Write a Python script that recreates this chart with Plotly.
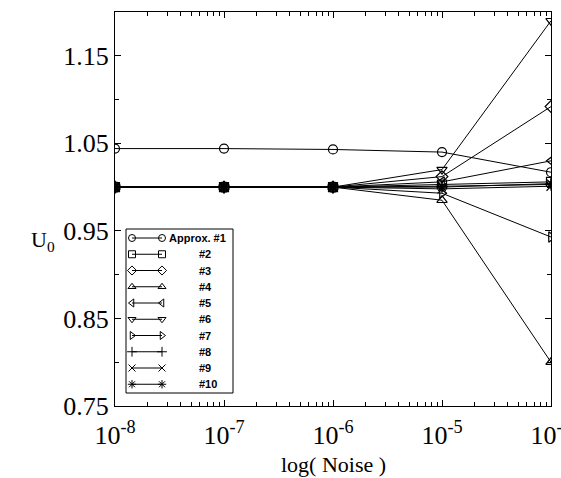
import plotly.graph_objects as go

# Noise levels (decades) and U0 estimates for each approximation
noise = [1e-8, 1e-7, 1e-6, 1e-5, 1e-4]
approx_1 = [1.044, 1.044, 1.043, 1.040, 1.017]
approx_2 = [1.000, 1.000, 1.000, 1.003, 1.006]
approx_3 = [1.000, 1.000, 1.000, 1.012, 1.092]
approx_4 = [1.000, 1.000, 1.000, 0.985, 0.800]
approx_5 = [1.000, 1.000, 1.000, 1.006, 1.030]
approx_6 = [1.000, 1.000, 1.000, 1.020, 1.190]
approx_7 = [1.000, 1.000, 1.000, 0.993, 0.943]
approx_8 = [1.000, 1.000, 1.000, 1.001, 1.003]
approx_9 = [1.000, 1.000, 1.000, 0.998, 1.001]
approx_10 = [1.000, 1.000, 1.000, 1.000, 1.004]

series_names = ["Approx. #1", "#2", "#3", "#4", "#5", "#6", "#7", "#8", "#9", "#10"]
series_values = [approx_1, approx_2, approx_3, approx_4, approx_5,
                 approx_6, approx_7, approx_8, approx_9, approx_10]
symbols = ["circle-open", "square-open", "diamond-open", "triangle-up-open",
           "triangle-left-open", "triangle-down-open", "triangle-right-open",
           "cross-thin-open", "x-thin-open", "asterisk-open"]

x_tickvals = [1e-8, 1e-7, 1e-6, 1e-5, 1e-4]
x_ticktext = ["10<sup>-8</sup>", "10<sup>-7</sup>", "10<sup>-6</sup>",
              "10<sup>-5</sup>", "10<sup>-4</sup>"]
x_minor = [m * 10.0 ** e for e in range(-8, -4) for m in range(2, 10)]
y_tickvals = [0.75, 0.85, 0.95, 1.05, 1.15]
y_ticktext = ["0.75", "0.85", "0.95", "1.05", "1.15"]
y_minor = [0.80, 0.90, 1.00, 1.10, 1.20]

W, H = 561, 478
ML, MR, MT, MB = 115, 10, 12, 72
PW, PH = W - ML - MR, H - MT - MB

SERIF = "Liberation Serif, Times New Roman, serif"
SANS = "Liberation Sans, Arial, sans-serif"

fig = go.Figure()

for name, vals, sym in zip(series_names, series_values, symbols):
    fig.add_trace(go.Scatter(
        x=noise, y=vals, name=name, mode="lines+markers",
        line=dict(color="black", width=1),
        marker=dict(symbol=sym, size=9, color="black",
                    line=dict(color="black", width=1.2)),
        showlegend=False, xaxis="x", yaxis="y",
    ))

# Boxed key drawn on an overlay axis measured in pixels from the plot's top-left
key_x0, key_x1 = 11, 118
key_y0, key_y1 = 217, 381
row_y0, row_step = 226, 16.25
mark_xl, mark_xr = 17, 47
for i, (name, sym) in enumerate(zip(series_names, symbols)):
    ry = row_y0 + i * row_step
    fig.add_trace(go.Scatter(
        x=[mark_xl, mark_xr], y=[ry, ry], mode="lines+markers",
        line=dict(color="black", width=1),
        marker=dict(symbol=sym, size=7, color="black",
                    line=dict(color="black", width=1)),
        showlegend=False, xaxis="x2", yaxis="y2", hoverinfo="skip",
    ))
    fig.add_annotation(
        x=52 if i == 0 else 82, y=ry, xref="x2", yref="y2",
        text="<b>" + name + "</b>", showarrow=False, xanchor="left",
        yanchor="middle", font=dict(family=SANS, size=11, color="black"),
    )
fig.add_shape(type="rect", xref="x2", yref="y2",
              x0=key_x0, x1=key_x1, y0=key_y0, y1=key_y1,
              line=dict(color="black", width=1), fillcolor="rgba(0,0,0,0)")

axis_common = dict(showline=True, linecolor="black", linewidth=1, mirror="allticks",
                   ticks="inside", tickcolor="black", showgrid=False, zeroline=False,
                   ticklabeloverflow="allow", automargin=False,
                   tickfont=dict(family=SERIF, size=26, color="black"))

fig.update_layout(
    width=W, height=H,
    margin=dict(l=ML, r=MR, t=MT, b=MB, autoexpand=False),
    paper_bgcolor="white", plot_bgcolor="white",
    xaxis=dict(type="log", range=[-8, -4], tickvals=x_tickvals, ticktext=x_ticktext,
               ticklen=6, ticklabelstandoff=6,
               minor=dict(ticks="inside", ticklen=4, tickcolor="black",
                          tickvals=x_minor, showgrid=False),
               **axis_common),
    yaxis=dict(range=[0.75, 1.2], tickvals=y_tickvals, ticktext=y_ticktext,
               ticklen=6,
               minor=dict(ticks="inside", ticklen=4, tickcolor="black",
                          tickvals=y_minor, showgrid=False),
               **axis_common),
    xaxis2=dict(range=[0, PW], visible=False, overlaying="x", domain=[0, 1]),
    yaxis2=dict(range=[PH, 0], visible=False, overlaying="y", domain=[0, 1]),
    showlegend=False,
)

fig.add_annotation(x=0.5, y=0, xref="paper", yref="paper", yshift=-58,
                   text="log( Noise )", showarrow=False, yanchor="middle",
                   font=dict(family=SERIF, size=22, color="black"))
fig.add_annotation(x=0, y=0.42, xref="paper", yref="paper", xshift=-72,
                   text="U<sub>0</sub>", showarrow=False, xanchor="center",
                   yanchor="middle", font=dict(family=SERIF, size=22, color="black"))

fig.write_html("out.html")
